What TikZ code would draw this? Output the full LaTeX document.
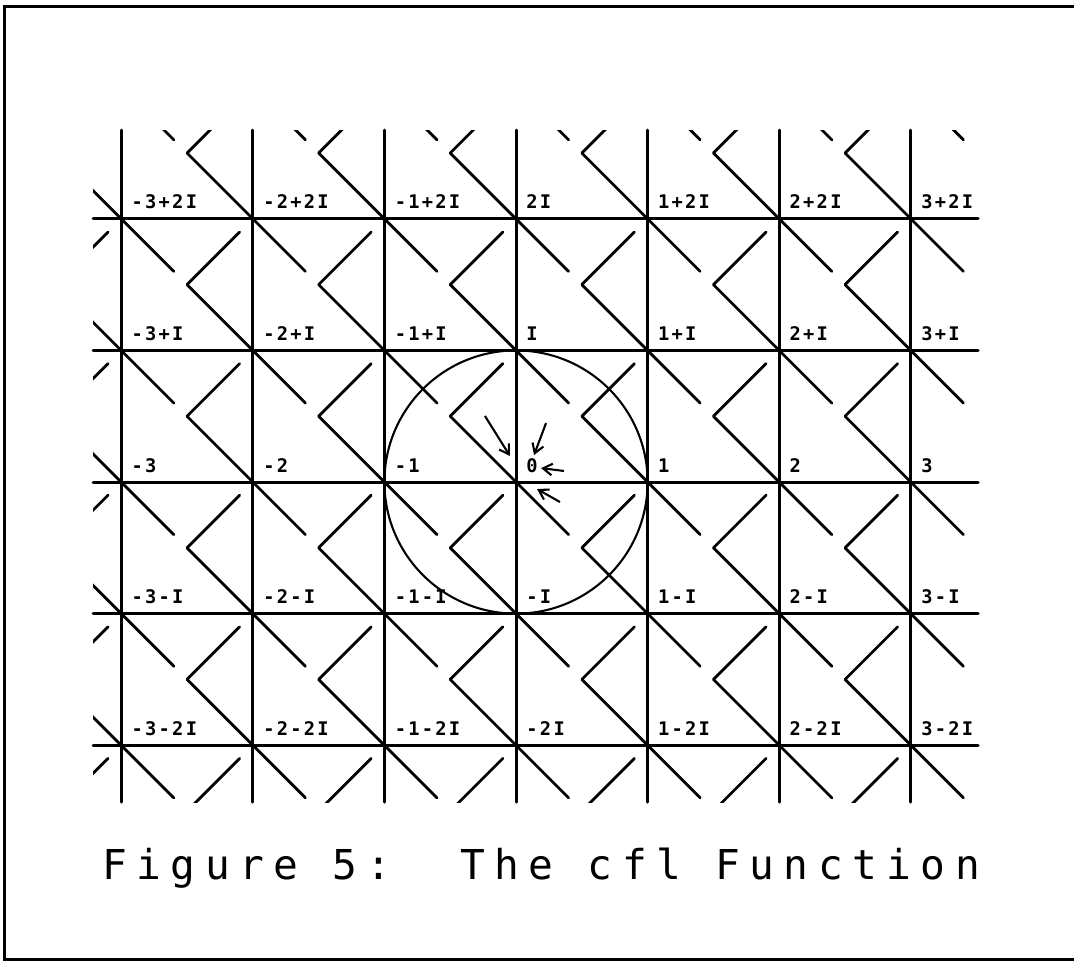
\documentclass[tikz,border=0pt]{standalone}
\usepackage{fontspec}
\usepackage{tikz}
\usetikzlibrary{arrows.meta}
\newfontfamily\plotfont[LetterSpace=23]{DejaVu Sans Mono}
\newfontfamily\gridfont[LetterSpace=12]{DejaVu Sans Mono}
\tikzset{
  framerule/.style={line width=1.3pt,black},
  gridrule/.style={line width=1.3pt,black,line cap=round},
  cflstroke/.style={line width=1.2pt,black,line cap=round,line join=round},
  unitcirc/.style={line width=0.9pt,black},
  ptlabel/.style={anchor=base west,inner sep=0pt,font=\gridfont\fontsize{8.1}{9}\selectfont\bfseries},
  captext/.style={anchor=base west,inner sep=0pt,font=\plotfont\fontsize{17.8}{20}\selectfont},
  handarr/.style={-{Straight Barb[length=4pt,width=5pt]},line width=0.9pt,black}
}
\begin{document}
\begin{tikzpicture}[x=2cm,y=2cm]
  \useasboundingbox (-3.921,-3.647) rectangle (4.240,3.663);
  \draw[framerule] (4.240,3.617) -- (-3.883,3.617) -- (-3.883,-3.625) -- (4.240,-3.625);
  % cfl strokes, one cell at a time
  \begin{scope}
    \clip (-3.214,-2.432) rectangle (3.49,2.675);
    \foreach \a in {-4,...,3} \foreach \b in {-2,...,3} {
      \draw[cflstroke] (\a,\b) -- ++(0.4,-0.4);
      \draw[cflstroke] (\a+0.9,\b-0.1) -- (\a+0.5,\b-0.5) -- (\a+1,\b-1);
    }
  \end{scope}
  \foreach \x in {-3,...,3} \draw[gridrule] (\x,-2.432) -- (\x,2.675);
  \foreach \y in {-2,...,2} \draw[gridrule] (-3.214,\y) -- (3.511,\y);
  \draw[unitcirc] (0,0) circle (1);
  % lattice point labels
  \foreach \y/\row in {2/{-3+2I,-2+2I,-1+2I,2I,1+2I,2+2I,3+2I},
                       1/{-3+I,-2+I,-1+I,I,1+I,2+I,3+I},
                       0/{-3,-2,-1,0,1,2,3},
                       -1/{-3-I,-2-I,-1-I,-I,1-I,2-I,3-I},
                       -2/{-3-2I,-2-2I,-1-2I,-2I,1-2I,2-2I,3-2I}}
    \foreach \lab [count=\i from -3] in \row
      \node[ptlabel] (p\i\y) at (\i+0.076,\y+0.076) {\lab};
  % hand-drawn arrows at the origin
  \coordinate (t1) at (-0.236,0.502); \coordinate (h1) at (-0.046,0.198);
  \coordinate (t2) at (0.228,0.448);  \coordinate (h2) at (0.137,0.205);
  \coordinate (t3) at (0.365,0.084);  \coordinate (h3) at (0.190,0.106);
  \coordinate (t4) at (0.334,-0.152); \coordinate (h4) at (0.160,-0.053);
  \foreach \k in {1,...,4} \draw[handarr] (t\k) -- (h\k);
  \node[captext] (cap) at (-3.146,-3.017) {Figure 5:\ \ The cfl Function};
\end{tikzpicture}
\end{document}
